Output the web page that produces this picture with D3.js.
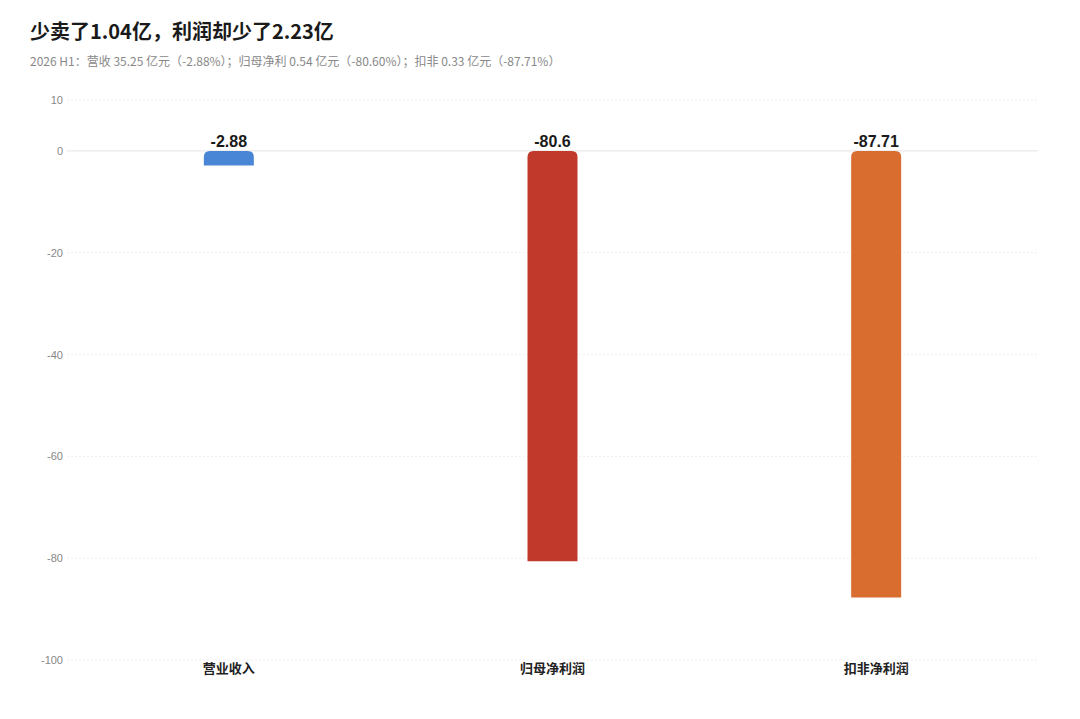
<!DOCTYPE html>
<html>
<head>
<meta charset="utf-8">
<script src="https://cdn.jsdelivr.net/npm/d3@7"></script>
<style>
  body { margin: 0; background: #fff; font-family: "Noto Sans CJK SC", "Noto Sans", sans-serif; }
  .grid line { stroke: #efefef; stroke-dasharray: 2 2; }
</style>
</head>
<body>
<div id="chart"></div>
<script>
const categories = ["营业收入", "归母净利润", "扣非净利润"];
const changes = [-2.88, -80.6, -87.71];
const barColors = ["#4a86d6", "#c0392b", "#d96c2f"];
const yTicks = [10, 0, -20, -40, -60, -80, -100];

const titleText = "少卖了1.04亿，利润却少了2.23亿";
const subtitleText = "2026 H1：营收 35.25 亿元（-2.88%）；归母净利 0.54 亿元（-80.60%）；扣非 0.33 亿元（-87.71%）";

const W = 1080, H = 719;
const margin = { top: 100, right: 42, bottom: 59, left: 67 };
const width = W - margin.left - margin.right;
const height = H - margin.top - margin.bottom;

const svg = d3.select("#chart").append("svg")
    .attr("width", W)
    .attr("height", H);

svg.append("text")
    .attr("x", 30).attr("y", 39)
    .style("font-size", "20px")
    .style("font-weight", "bold")
    .style("fill", "#1a1a1a")
    .text(titleText);

svg.append("text")
    .attr("x", 30).attr("y", 66)
    .style("font-size", "12px")
    .style("fill", "#888")
    .text(subtitleText);

const g = svg.append("g")
    .attr("transform", `translate(${margin.left},${margin.top})`);

const x = d3.scaleBand().domain(categories).range([0, width]).padding(0);
const y = d3.scaleLinear().domain([-100, 10]).range([height, 0]);

// grid lines (zero line solid)
g.append("g").attr("class", "grid")
    .selectAll("line")
    .data(yTicks)
    .join("line")
    .attr("x1", 0).attr("x2", width)
    .attr("y1", d => y(d)).attr("y2", d => y(d))
    .filter(d => d === 0)
    .style("stroke", "#e3e3e3")
    .style("stroke-dasharray", "none");

// y axis labels
const yAxis = g.append("g")
    .call(d3.axisLeft(y).tickValues(yTicks).tickFormat(d => String(d)).tickSize(0).tickPadding(4));
yAxis.select(".domain").remove();
yAxis.selectAll("text")
    .style("font-size", "11px")
    .style("fill", "#888")
    .style("font-family", "Helvetica, Arial, 'Liberation Sans', sans-serif");

// bars: rounded corners at the zero end only
const barW = 50, r = 6;
function barPath(d) {
    const cx = x(d.cat) + x.bandwidth() / 2;
    const x0 = cx - barW / 2, x1 = cx + barW / 2;
    const y0 = y(0), y1 = y(d.v);
    const rr = Math.min(r, Math.abs(y1 - y0));
    return `M${x0},${y1} L${x0},${y0 + rr} Q${x0},${y0} ${x0 + rr},${y0}` +
           ` L${x1 - rr},${y0} Q${x1},${y0} ${x1},${y0 + rr} L${x1},${y1} Z`;
}

const data = categories.map((c, i) => ({ cat: c, v: changes[i], color: barColors[i] }));

g.selectAll(".bar")
    .data(data)
    .join("path")
    .attr("class", "bar")
    .attr("d", barPath)
    .attr("fill", d => d.color);

g.selectAll(".bar-label")
    .data(data)
    .join("text")
    .attr("class", "bar-label")
    .attr("x", d => x(d.cat) + x.bandwidth() / 2)
    .attr("y", y(0) - 4)
    .attr("text-anchor", "middle")
    .style("font-size", "16px")
    .style("font-weight", "bold")
    .style("fill", "#1a1a1a")
    .style("font-family", "Helvetica, Arial, 'Liberation Sans', sans-serif")
    .text(d => d.v);

// x axis category labels
const xAxis = g.append("g")
    .attr("transform", `translate(0,${height})`)
    .call(d3.axisBottom(x).tickSize(0).tickPadding(4));
xAxis.select(".domain").remove();
xAxis.selectAll("text")
    .style("font-size", "13px")
    .style("font-weight", "bold")
    .style("fill", "#222")
    .style("font-family", "'Noto Sans CJK SC', sans-serif");
</script>
</body>
</html>
